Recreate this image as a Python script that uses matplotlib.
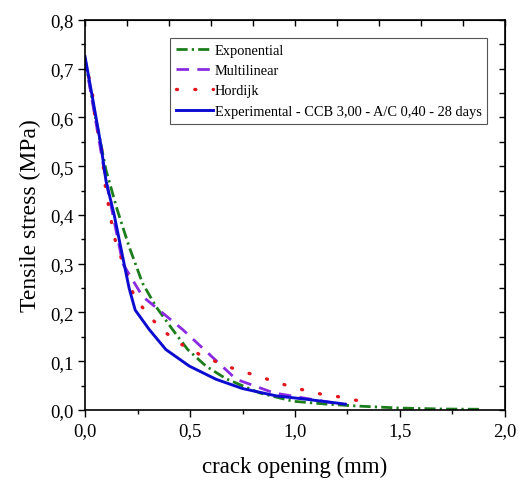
import matplotlib
matplotlib.use("Agg")
import matplotlib.pyplot as plt
from matplotlib.ticker import MultipleLocator, FuncFormatter

plt.rcParams.update({
    "font.family": ["Liberation Serif", "DejaVu Serif"],
    "font.size": 13,
})

exp_x = [0.0, 0.05, 0.10, 0.154, 0.21, 0.274, 0.338, 0.417, 0.489, 0.576, 0.672, 0.831, 0.99, 1.15, 1.30, 1.50, 1.70, 1.88]
exp_y = [0.72, 0.60, 0.492, 0.41, 0.335, 0.26, 0.212, 0.165, 0.124, 0.09, 0.064, 0.035, 0.018, 0.012, 0.008, 0.004, 0.002, 0.0015]

multi_x = [0.0, 0.10, 0.18, 0.274, 0.465, 0.72, 0.90, 1.05, 1.22]
multi_y = [0.72, 0.47, 0.30, 0.233, 0.165, 0.063, 0.035, 0.024, 0.012]

hord_x = [0.0, 0.035, 0.05, 0.075, 0.099, 0.139, 0.186, 0.234, 0.306, 0.377, 0.449, 0.545, 0.672, 0.833, 0.913, 0.985, 1.06, 1.14, 1.21, 1.29, 1.37]
hord_y = [0.72, 0.65, 0.59, 0.552, 0.45, 0.355, 0.294, 0.233, 0.192, 0.161, 0.137, 0.114, 0.09, 0.068, 0.057, 0.047, 0.039, 0.031, 0.027, 0.02, 0.016]

expt_x = [0.0, 0.04, 0.075, 0.10, 0.139, 0.186, 0.21, 0.239, 0.306, 0.385, 0.497, 0.624, 0.75, 0.91, 1.054, 1.24]
expt_y = [0.725, 0.63, 0.545, 0.47, 0.40, 0.30, 0.25, 0.205, 0.165, 0.124, 0.09, 0.063, 0.044, 0.029, 0.022, 0.012]

labels = ["Exponential", "Multilinear", "Hordijk",
          "Experimental - CCB 3,00 - A/C 0,40 - 28 days"]

fig = plt.figure(figsize=(5.19, 4.85), dpi=100)
ax = fig.add_axes([0.1638, 0.1526, 0.8092, 0.8041])

ax.plot(exp_x, exp_y, color="#1b7d1b", lw=2.0, linestyle=(0, (4, 1.5, 0.8, 1.5)), label=labels[0])
ax.plot(multi_x, multi_y, color="#8a2be2", lw=2.0, linestyle=(0, (4.5, 3)), label=labels[1])
ax.plot(hord_x, hord_y, color="#e3161e", lw=2.4, linestyle=(0, (0.3, 5.2)),
        dash_capstyle="round", label=labels[2])
ax.plot(expt_x, expt_y, color="#0c0cd0", lw=2.1, linestyle="-", label=labels[3])

ax.set_xlim(0, 2.0)
ax.set_ylim(0, 0.8)

comma = FuncFormatter(lambda v, p: f"{v:.1f}".replace(".", ","))
ax.xaxis.set_major_locator(MultipleLocator(0.5))
ax.xaxis.set_minor_locator(MultipleLocator(0.25))
ax.yaxis.set_major_locator(MultipleLocator(0.1))
ax.yaxis.set_minor_locator(MultipleLocator(0.05))
ax.xaxis.set_major_formatter(comma)
ax.yaxis.set_major_formatter(comma)
ax.tick_params(which="major", direction="out", length=5, width=1, labelsize=13.5)
ax.tick_params(which="minor", direction="out", length=3, width=1)

# top and right ticks, inward, no labels
top = ax.secondary_xaxis("top")
top.xaxis.set_major_locator(MultipleLocator(0.2))
top.tick_params(direction="in", length=4, width=1, labeltop=False)
right = ax.secondary_yaxis("right")
right.yaxis.set_major_locator(MultipleLocator(0.05))
right.tick_params(direction="in", length=4, width=1, labelright=False)

for s in ax.spines.values():
    s.set_linewidth(1.2)

ax.set_xlabel("crack opening (mm)", fontsize=16.5, labelpad=12)
ax.set_ylabel("Tensile stress (MPa)", fontsize=17, labelpad=6)

leg = ax.legend(loc="upper left", bbox_to_anchor=(0.202, 0.954), fontsize=10.4,
                handlelength=2.6, handletextpad=0.1, borderpad=0.4,
                labelspacing=0.5, fancybox=False, framealpha=1,
                borderaxespad=0)
leg.get_frame().set_edgecolor("#555555")
leg.get_frame().set_linewidth(0.8)

fig.savefig("out.png", dpi=100)
